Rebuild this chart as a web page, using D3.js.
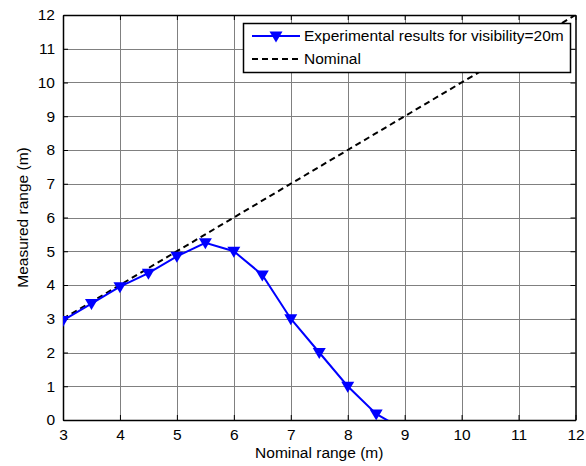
<!DOCTYPE html>
<html>
<head>
	<meta charset="utf-8">
	<title>Measured vs nominal range</title>
	<script src="https://cdn.jsdelivr.net/npm/d3@7"></script>
	<style>
		body { margin: 0; background: #fff; font-family: "Liberation Sans", Arial, sans-serif; }
	</style>
</head>
<body>
	<div id="chart"></div>
	<script>

		// data
		const nominalRange  = [3, 3.5, 4, 4.5, 5, 5.5, 6, 6.5, 7, 7.5, 8, 8.5, 9];
		const measuredRange = [2.95, 3.45, 3.95, 4.35, 4.85, 5.25, 5.0, 4.3, 3.0, 2.0, 1.0, 0.18, -0.3];
		const nominalLine   = [3, 12];
		const xTicks        = [3, 4, 5, 6, 7, 8, 9, 10, 11, 12];
		const yTicks        = [0, 1, 2, 3, 4, 5, 6, 7, 8, 9, 10, 11, 12];
		const seriesNames   = ["Experimental results for visibility=20m", "Nominal"];

		const width = 586, height = 466;
		const margin = {top: 15, right: 10.5, bottom: 46, left: 63};

		const x = d3.scaleLinear([3, 12], [margin.left, width - margin.right]);
		const y = d3.scaleLinear([0, 12], [height - margin.bottom, margin.top]);

		const svg = d3.select("#chart").append("svg")
			.attr("width", width)
			.attr("height", height)
			.style("font-family", "'Liberation Sans', Arial, sans-serif");

		svg.append("clipPath").attr("id", "clip")
			.append("rect")
			.attr("x", x(3)).attr("y", y(12))
			.attr("width", x(12) - x(3)).attr("height", y(0) - y(12));

		// grid
		const grid = svg.append("g").attr("stroke", "#808080").attr("stroke-width", 1);
		grid.selectAll(".gx").data(xTicks.slice(1, -1)).join("line")
			.attr("x1", d => Math.round(x(d)) + 0.5).attr("x2", d => Math.round(x(d)) + 0.5)
			.attr("y1", y(0)).attr("y2", y(12));
		grid.selectAll(".gy").data(yTicks.slice(1, -1)).join("line")
			.attr("y1", d => Math.round(y(d)) + 0.5).attr("y2", d => Math.round(y(d)) + 0.5)
			.attr("x1", x(3)).attr("x2", x(12));

		// axes
		const xAxis = svg.append("g")
			.attr("transform", `translate(0,${y(0)})`)
			.call(d3.axisBottom(x).tickValues(xTicks).tickSize(-5).tickPadding(9).tickSizeOuter(0));
		const xAxisTop = svg.append("g")
			.attr("transform", `translate(0,${y(12)})`)
			.call(d3.axisTop(x).tickValues(xTicks).tickSize(-5).tickFormat("").tickSizeOuter(0));
		const yAxis = svg.append("g")
			.attr("transform", `translate(${x(3)},0)`)
			.call(d3.axisLeft(y).tickValues(yTicks).tickSize(-5).tickPadding(8).tickSizeOuter(0));
		const yAxisRight = svg.append("g")
			.attr("transform", `translate(${x(12)},0)`)
			.call(d3.axisRight(y).tickValues(yTicks).tickSize(-5).tickFormat("").tickSizeOuter(0));

		[xAxis, xAxisTop, yAxis, yAxisRight].forEach(g => {
			g.select(".domain").attr("stroke", "#000").attr("stroke-width", 1.5);
			g.selectAll(".tick line").attr("stroke", "#000");
			g.selectAll("text").attr("fill", "#000").style("font-size", "15.5px");
		});

		const plot = svg.append("g").attr("clip-path", "url(#clip)");

		// nominal dashed line
		plot.append("path")
			.datum(nominalLine)
			.attr("fill", "none")
			.attr("stroke", "#000")
			.attr("stroke-width", 2)
			.attr("stroke-dasharray", "6,4")
			.attr("d", d3.line().x(d => x(d)).y(d => y(d)));

		// experimental series
		const pts = nominalRange.map((d, i) => [d, measuredRange[i]]);
		plot.append("path")
			.datum(pts)
			.attr("fill", "none")
			.attr("stroke", "#0000ff")
			.attr("stroke-width", 2)
			.attr("d", d3.line().x(d => x(d[0])).y(d => y(d[1])));

		const tri = "M-6.5,-4.5L6.5,-4.5L0,6.5Z";
		plot.selectAll(".m").data(pts).join("path")
			.attr("transform", d => `translate(${x(d[0])},${y(d[1])})`)
			.attr("d", tri)
			.attr("fill", "#0000ff");

		// legend
		const lg = svg.append("g");
		lg.append("rect")
			.attr("x", 243.5).attr("y", 23.5).attr("width", 327).attr("height", 49)
			.attr("fill", "#fff").attr("stroke", "#000").attr("stroke-width", 1.5);
		lg.append("line").attr("x1", 252).attr("x2", 300).attr("y1", 36).attr("y2", 36)
			.attr("stroke", "#0000ff").attr("stroke-width", 2);
		lg.append("path").attr("d", tri).attr("transform", "translate(276,36)").attr("fill", "#0000ff");
		lg.append("line").attr("x1", 252).attr("x2", 300).attr("y1", 59).attr("y2", 59)
			.attr("stroke", "#000").attr("stroke-width", 2).attr("stroke-dasharray", "6,4");
		lg.selectAll(".lt").data(seriesNames).join("text")
			.attr("x", 304).attr("y", (d, i) => 36 + i * 23)
			.attr("dy", "0.35em")
			.style("font-size", "15.5px")
			.text(d => d);

		// axis labels
		svg.append("text")
			.attr("x", (x(3) + x(12)) / 2).attr("y", 458)
			.attr("text-anchor", "middle")
			.style("font-size", "15.5px")
			.text("Nominal range (m)");
		svg.append("text")
			.attr("transform", `translate(28,${(y(0) + y(12)) / 2}) rotate(-90)`)
			.attr("text-anchor", "middle")
			.style("font-size", "15.5px")
			.text("Measured range (m)");

	</script>
</body>
</html>
